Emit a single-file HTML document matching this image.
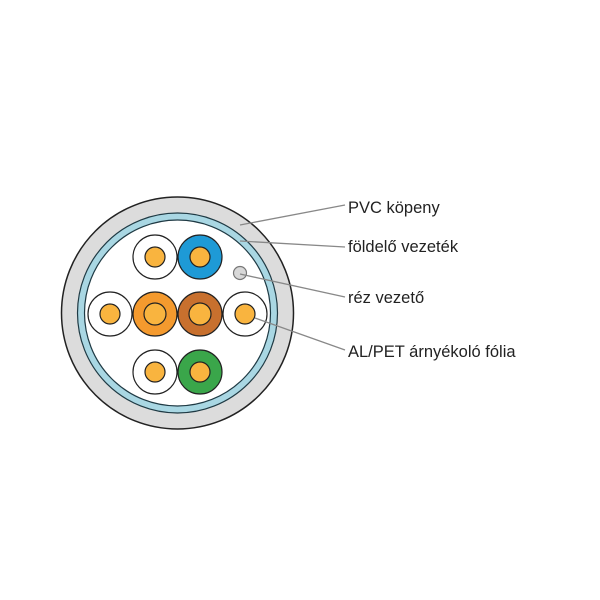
<!DOCTYPE html>
<html><head><meta charset="utf-8"><style>html,body{margin:0;padding:0;background:#fff;width:600px;height:600px;overflow:hidden}</style></head>
<body>
<svg width="600" height="600" viewBox="0 0 600 600" xmlns="http://www.w3.org/2000/svg">
<circle cx="177.5" cy="313" r="116" fill="#dcdcdc" stroke="#222" stroke-width="1.5"/>
<circle cx="177.5" cy="313" r="100" fill="#a9d7e3" stroke="#1f3a44" stroke-width="1.2"/>
<circle cx="177.5" cy="313" r="93" fill="#fff" stroke="#1f3a44" stroke-width="1.2"/>
<g stroke="#222" stroke-width="1.2">
<circle cx="155" cy="257" r="22" fill="#fff"/><circle cx="155" cy="257" r="10" fill="#f9b43f"/>
<circle cx="200" cy="257" r="22" fill="#1e9ad6"/><circle cx="200" cy="257" r="10" fill="#f9b43f"/>
<circle cx="110" cy="314" r="22" fill="#fff"/><circle cx="110" cy="314" r="10" fill="#f9b43f"/>
<circle cx="155" cy="314" r="22" fill="#f49a2e"/><circle cx="155" cy="314" r="11" fill="#f9b43f"/>
<circle cx="200" cy="314" r="22" fill="#c8702e"/><circle cx="200" cy="314" r="11" fill="#f9b43f"/>
<circle cx="245" cy="314" r="22" fill="#fff"/><circle cx="245" cy="314" r="10" fill="#f9b43f"/>
<circle cx="155" cy="372" r="22" fill="#fff"/><circle cx="155" cy="372" r="10" fill="#f9b43f"/>
<circle cx="200" cy="372" r="22" fill="#3aa64a"/><circle cx="200" cy="372" r="10" fill="#f9b43f"/>
<circle cx="240" cy="273" r="6.5" fill="#d8d8d8" stroke="#777"/>
</g>
<g stroke="#888" stroke-width="1.3">
<line x1="240" y1="225" x2="345" y2="205"/>
<line x1="240" y1="241" x2="345" y2="247"/>
<line x1="240" y1="274" x2="345" y2="297"/>
<line x1="255" y1="318" x2="345" y2="350"/>
</g>
<g font-family="Liberation Sans, sans-serif" font-size="16.5" fill="#222">
<text x="348" y="213">PVC köpeny</text>
<text x="348" y="252">földelő vezeték</text>
<text x="348" y="303">réz vezető</text>
<text x="348" y="357">AL/PET árnyékoló fólia</text>
</g>
</svg>
</body></html>
